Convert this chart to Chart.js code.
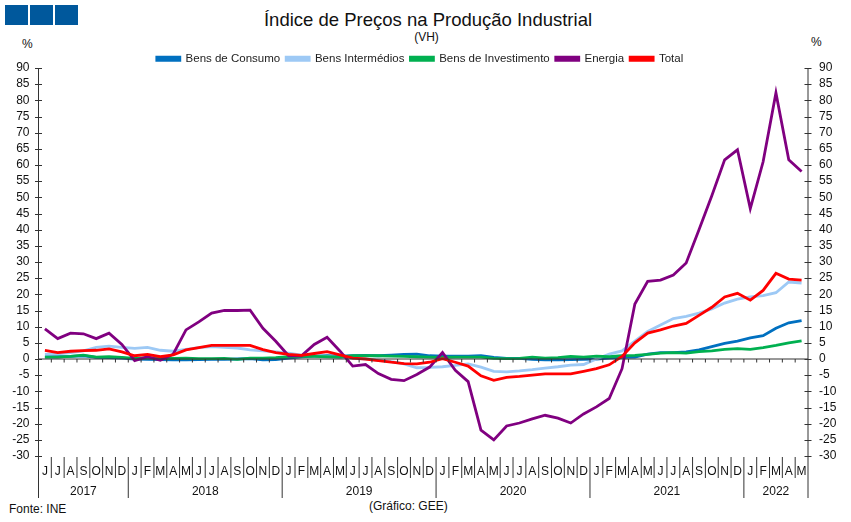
<!DOCTYPE html>
<html>

<head>
    <title>Índice de Preços na Produção Industrial</title>
    <meta charset="utf-8">
    <script src="https://cdn.jsdelivr.net/npm/chart.js"></script>
    <style type="text/css">
        html, body {
            margin: 0;
            background: #fff;
            overflow: hidden;
        }

        #page {
            position: relative;
            width: 851px;
            height: 522px;
            font-family: "Liberation Sans", Arial, sans-serif;
            color: #111;
        }

        #page div.txt {
            position: absolute;
            white-space: nowrap;
        }

        .sq {
            position: absolute;
            top: 5px;
            width: 23px;
            height: 20px;
            background: #00589c;
        }
    </style>
</head>

<body>
    <div id="page">
        <div class="sq" style="left:5px"></div>
        <div class="sq" style="left:30px"></div>
        <div class="sq" style="left:55px"></div>
        <div class="txt" style="left:0;width:856px;text-align:center;top:9px;font-size:18.5px;">Índice de Preços na Produção Industrial</div>
        <div class="txt" style="left:0;width:853px;text-align:center;top:30px;font-size:12px;">(VH)</div>
        <div class="txt" style="left:22px;top:37px;font-size:12px;">%</div>
        <div class="txt" style="left:811px;top:35px;font-size:12px;">%</div>
        <div class="txt" style="left:9px;top:502px;font-size:12px;">Fonte: INE</div>
        <div class="txt" style="left:369px;top:499px;font-size:12px;">(Gráfico: GEE)</div>
        <div style="position:absolute;left:0;top:0;width:851px;height:522px">
            <canvas id="myChart"></canvas>
        </div>
    </div>

    <script>
        const months = ['J', 'J', 'A', 'S', 'O', 'N', 'D',
            'J', 'F', 'M', 'A', 'M', 'J', 'J', 'A', 'S', 'O', 'N', 'D',
            'J', 'F', 'M', 'A', 'M', 'J', 'J', 'A', 'S', 'O', 'N', 'D',
            'J', 'F', 'M', 'A', 'M', 'J', 'J', 'A', 'S', 'O', 'N', 'D',
            'J', 'F', 'M', 'A', 'M', 'J', 'J', 'A', 'S', 'O', 'N', 'D',
            'J', 'F', 'M', 'A', 'M'];
        const years = ['2017', '2018', '2019', '2020', '2021', '2022'];
        const monthsPerYear = [7, 12, 12, 12, 12, 5];

        const consumo = [0.7, 0.7, 0.8, 1, 0.5, 0.4, 0.3,
            0, -0.1, -0.2, -0.3, -0.3, -0.2, -0.1, -0.1, 0, 0.1, -0.3, -0.2,
            0.3, 0.7, 0.9, 1, 0.9, 1, 1.1, 1, 1.2, 1.4, 1.5, 1,
            0.9, 0.9, 0.9, 1, 0.5, 0.2, 0.2, -0.1, -0.3, -0.3, -0.2, -0.1,
            0, 0.3, 0.5, 0.6, 1.5, 2, 2, 2.2, 2.8, 3.8, 4.8, 5.5,
            6.5, 7.2, 9.5, 11.2, 11.9];
        const intermedios = [1.4, 1.6, 2, 2.5, 3.6, 4, 3.6,
            3.3, 3.6, 2.7, 2.4, 3, 3.5, 3.8, 3.6, 3.4, 2.8, 2.5, 2.2,
            1.8, 1.2, 1, 0.8, 0.5, 0.3, 0, -0.4, -0.8, -1.5, -2.7, -2.6,
            -2.4, -2, -1.5, -2.5, -3.8, -4, -3.7, -3.3, -2.8, -2.4, -1.9, -1.7,
            0, 1.5, 2.5, 5.5, 8.5, 10.5, 12.5, 13.2, 14.2, 15.5, 17.3, 18.5,
            19.2, 19.6, 20.5, 23.8, 23.5];
        const investimento = [0.6, 0.6, 0.8, 1.2, 0.6, 0.7, 0.5,
            0.2, 0.4, 0.3, 0.2, 0.3, 0.1, 0.1, 0.2, -0.1, 0.3, 0.3, 0.4,
            0.7, 0.8, 0.8, 0.7, 0.6, 1, 1, 1, 0.9, 0.8, 0.7, 0.6,
            0.5, 0.6, 0.6, 0.6, 0.2, 0.1, 0.2, 0.6, 0.3, 0.4, 0.8, 0.6,
            0.9, 0.7, 1, 1.1, 1.4, 1.8, 2, 1.8, 2.3, 2.5, 3, 3.2,
            3, 3.5, 4.2, 5, 5.6];
        const energia = [9.3, 6.3, 8, 7.8, 6.3, 8, 4.5,
            -0.5, 0.7, -0.4, 1.5, 9, 11.5, 14.2, 15, 15, 15.1, 9.5, 5.5,
            1, 1, 4.5, 6.7, 2.5, -2.2, -1.7, -4.5, -6.3, -6.7, -4.8, -2.5,
            2, -3.5, -7, -22, -25, -20.7, -19.8, -18.5, -17.4, -18.3, -19.8, -17,
            -14.8, -12.2, -3, 17, 24, 24.4, 26, 29.7, 40, 50.5, 61.6, 64.7,
            46.5, 61, 82.3, 61.6, 58];
        const total = [2.7, 2, 2.4, 2.6, 2.7, 3.1, 2.2,
            1, 1.4, 0.7, 1.3, 2.8, 3.5, 4.2, 4.2, 4.2, 4.2, 2.9, 2,
            1.4, 1.1, 1.7, 2.3, 1.3, 0.3, 0, -0.5, -1, -1.4, -1.5, -1,
            0.1, -1, -2.2, -5.2, -6.6, -5.7, -5.4, -5, -4.6, -4.6, -4.6, -3.8,
            -3, -1.8, 0.8, 5, 8, 9, 10.2, 11, 13.5, 16, 19.2, 20.3,
            18.2, 21.2, 26.5, 24.7, 24.4];

        const axisColor = '#333';

        // month/year dividers, tick marks on the zero line and the year row
        const axisExtras = {
            id: 'axisExtras',
            afterDraw(chart) {
                const ctx = chart.ctx;
                const x = chart.scales.x;
                const y = chart.scales.y;
                const top = chart.chartArea.top;
                const bottom = chart.chartArea.bottom;
                const left = chart.chartArea.left;
                const right = chart.chartArea.right;
                const step = (right - left) / months.length;
                const zero = y.getPixelForValue(0);
                ctx.save();
                ctx.lineWidth = 1;
                ctx.strokeStyle = axisColor;
                const line = (x1, y1, x2, y2) => {
                    ctx.beginPath();
                    ctx.moveTo(x1, y1);
                    ctx.lineTo(x2, y2);
                    ctx.stroke();
                };
                line(left, zero, right, zero);
                months.forEach((m, i) => {
                    const bx = x.getPixelForValue(i) - step / 2;
                    if (i > 0) {
                        line(bx, zero, bx, zero + 3.5);
                        line(bx, bottom + 1, bx, bottom + 22);
                    }
                });
                y.ticks.forEach(t => {
                    const ty = Math.round(y.getPixelForValue(t.value)) + 0.5;
                    line(left - 3.5, ty, left + 3.5, ty);
                    line(right - 3.5, ty, right + 3.5, ty);
                });
                line(left, top, left, bottom + 42);
                line(right, top, right, bottom + 42);
                ctx.fillStyle = '#111';
                ctx.font = '12px "Liberation Sans"';
                ctx.textAlign = 'center';
                ctx.textBaseline = 'middle';
                let start = 0;
                years.forEach((yr, i) => {
                    const from = x.getPixelForValue(start) - step / 2;
                    const to = x.getPixelForValue(start + monthsPerYear[i] - 1) + step / 2;
                    ctx.fillText(yr, (from + to) / 2, bottom + 36);
                    if (i > 0) {
                        line(from, bottom + 22, from, bottom + 42);
                    }
                    start += monthsPerYear[i];
                });
                ctx.restore();
            }
        };

        function serie(label, data, color, order) {
            return {
                label: label,
                data: data,
                borderColor: color,
                backgroundColor: color,
                borderWidth: 2.8,
                pointRadius: 0,
                tension: 0,
                order: order
            };
        }

        var ctx = document.getElementById('myChart').getContext('2d');
        var myChart = new Chart(ctx, {
            type: 'line',
            data: {
                labels: months,
                datasets: [
                    serie('Bens de Consumo', consumo, '#0070c0', 5),
                    serie('Bens Intermédios', intermedios, '#9dc9f5', 4),
                    serie('Bens de Investimento', investimento, '#00b050', 3),
                    serie('Energia', energia, '#800080', 2),
                    serie('Total', total, '#ff0000', 1)
                ]
            },
            options: {
                responsive: true,
                maintainAspectRatio: false,
                animation: false,
                // right padding only pulls the centred legend over to the left
                layout: { padding: { top: 47, left: 0, right: 11, bottom: 0 } },
                plugins: {
                    title: { display: false },
                    tooltip: { enabled: false },
                    legend: {
                        position: 'top',
                        maxHeight: 21,
                        labels: {
                            boxWidth: 23,
                            boxHeight: 3,
                            padding: 6,
                            color: '#222',
                            font: { family: '"Liberation Sans"', size: 11.5 },
                            sort: (a, b) => a.datasetIndex - b.datasetIndex
                        }
                    }
                },
                scales: {
                    x: {
                        type: 'category',
                        offset: true,
                        afterFit(s) { s.height = 66; },
                        border: { display: false },
                        grid: { display: false, drawTicks: false },
                        ticks: {
                            autoSkip: false,
                            maxRotation: 0,
                            padding: 8,
                            color: '#111',
                            font: { family: '"Liberation Sans"', size: 12 }
                        }
                    },
                    y: {
                        position: 'left',
                        min: -30,
                        max: 90,
                        afterFit(s) { s.width = 38.5; },
                        border: { display: false },
                        grid: { display: false, drawTicks: false },
                        ticks: {
                            stepSize: 5,
                            autoSkip: false,
                            padding: 9,
                            color: '#111',
                            font: { family: '"Liberation Sans"', size: 12 }
                        }
                    },
                    y2: {
                        position: 'right',
                        min: -30,
                        max: 90,
                        afterFit(s) { s.width = 32; },
                        border: { display: false },
                        grid: { display: false, drawTicks: false },
                        ticks: {
                            stepSize: 5,
                            autoSkip: false,
                            padding: 11,
                            color: '#111',
                            font: { family: '"Liberation Sans"', size: 12 }
                        }
                    }
                }
            },
            plugins: [axisExtras]
        });
    </script>
</body>

</html>
